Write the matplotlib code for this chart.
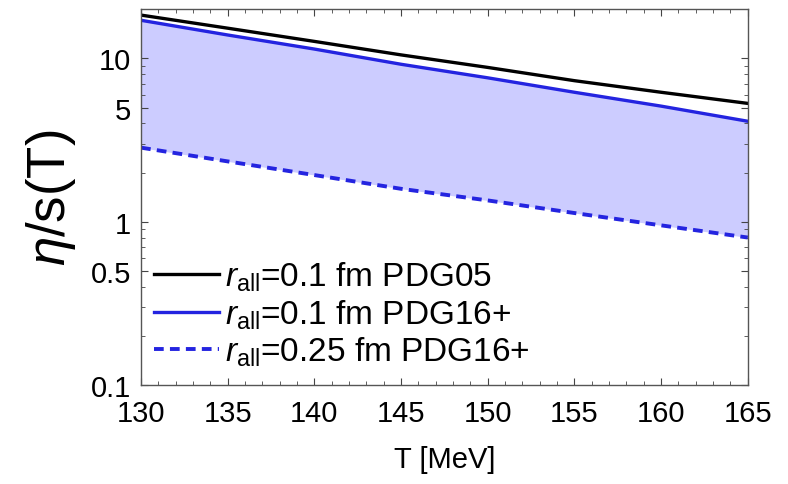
import matplotlib
matplotlib.use("Agg")
import matplotlib.pyplot as plt
from matplotlib.ticker import FixedLocator, FixedFormatter, MultipleLocator, NullFormatter

plt.rcParams['font.family'] = ['Liberation Sans', 'DejaVu Sans']
plt.rcParams['mathtext.fontset'] = 'custom'
plt.rcParams['mathtext.rm'] = 'Liberation Sans'
plt.rcParams['mathtext.it'] = 'Liberation Sans:italic'

# temperature grid [MeV]
T = [130, 135, 140, 145, 150, 155, 160, 165]

# eta/s for the three parameter sets
eta_s_pdg05 = [18.4, 15.3, 12.7, 10.5, 8.8, 7.3, 6.2, 5.3]
eta_s_pdg16_r010 = [17.1, 13.9, 11.4, 9.2, 7.6, 6.2, 5.1, 4.12]
eta_s_pdg16_r025 = [2.84, 2.34, 1.93, 1.59, 1.35, 1.13, 0.95, 0.80]

labels = [r"$r_{\mathrm{all}}$=0.1 fm PDG05",
          r"$r_{\mathrm{all}}$=0.1 fm PDG16+",
          r"$r_{\mathrm{all}}$=0.25 fm PDG16+"]

y_ticks = [0.1, 0.5, 1, 5, 10]
y_tick_labels = ["0.1", "0.5", "1", "5", "10"]
y_minor = [0.2, 0.3, 0.4, 0.6, 0.7, 0.8, 0.9, 2, 3, 4, 6, 7, 8, 9, 20]

blue = '#2424e0'

fig = plt.figure(figsize=(7.88, 4.85), dpi=100)
ax = fig.add_axes([0.179, 0.204, 0.770, 0.775])

ax.fill_between(T, eta_s_pdg16_r025, eta_s_pdg16_r010, color='#ccccff', lw=0)
ax.plot(T, eta_s_pdg05, color='black', lw=2.4, label=labels[0])
ax.plot(T, eta_s_pdg16_r010, color=blue, lw=2.4, label=labels[1])
ax.plot(T, eta_s_pdg16_r025, color=blue, lw=2.8, ls=(0, (2.5, 1.6)), label=labels[2])

ax.set_yscale('log')
ax.set_xlim(130, 165)
ax.set_ylim(0.1, 20)

ax.yaxis.set_major_locator(FixedLocator(y_ticks))
ax.yaxis.set_major_formatter(FixedFormatter(y_tick_labels))
ax.yaxis.set_minor_locator(FixedLocator(y_minor))
ax.yaxis.set_minor_formatter(NullFormatter())
ax.xaxis.set_major_locator(MultipleLocator(5))
ax.xaxis.set_minor_locator(MultipleLocator(1))

ax.tick_params(which='both', direction='in', top=True, right=True,
               color='#444444', labelsize=21)
ax.tick_params(axis='x', which='major', pad=10)
ax.tick_params(axis='y', which='major', pad=7)
ax.tick_params(which='major', length=5, width=0.8)
ax.tick_params(which='minor', length=3, width=0.6)
for s in ax.spines.values():
    s.set_color('#555555')
    s.set_linewidth(1.0)

ax.set_xlabel("T [MeV]", fontsize=21, labelpad=13)
ax.set_ylabel(r"$\mathit{\eta}$/s(T)", fontsize=38, labelpad=9)

ax.legend(loc='lower left', frameon=False, fontsize=24, handlelength=1.95,
          handletextpad=0.18, labelspacing=0.12, borderaxespad=0.0,
          bbox_to_anchor=(0.0, 0.01))

fig.savefig("out.png", dpi=100)
